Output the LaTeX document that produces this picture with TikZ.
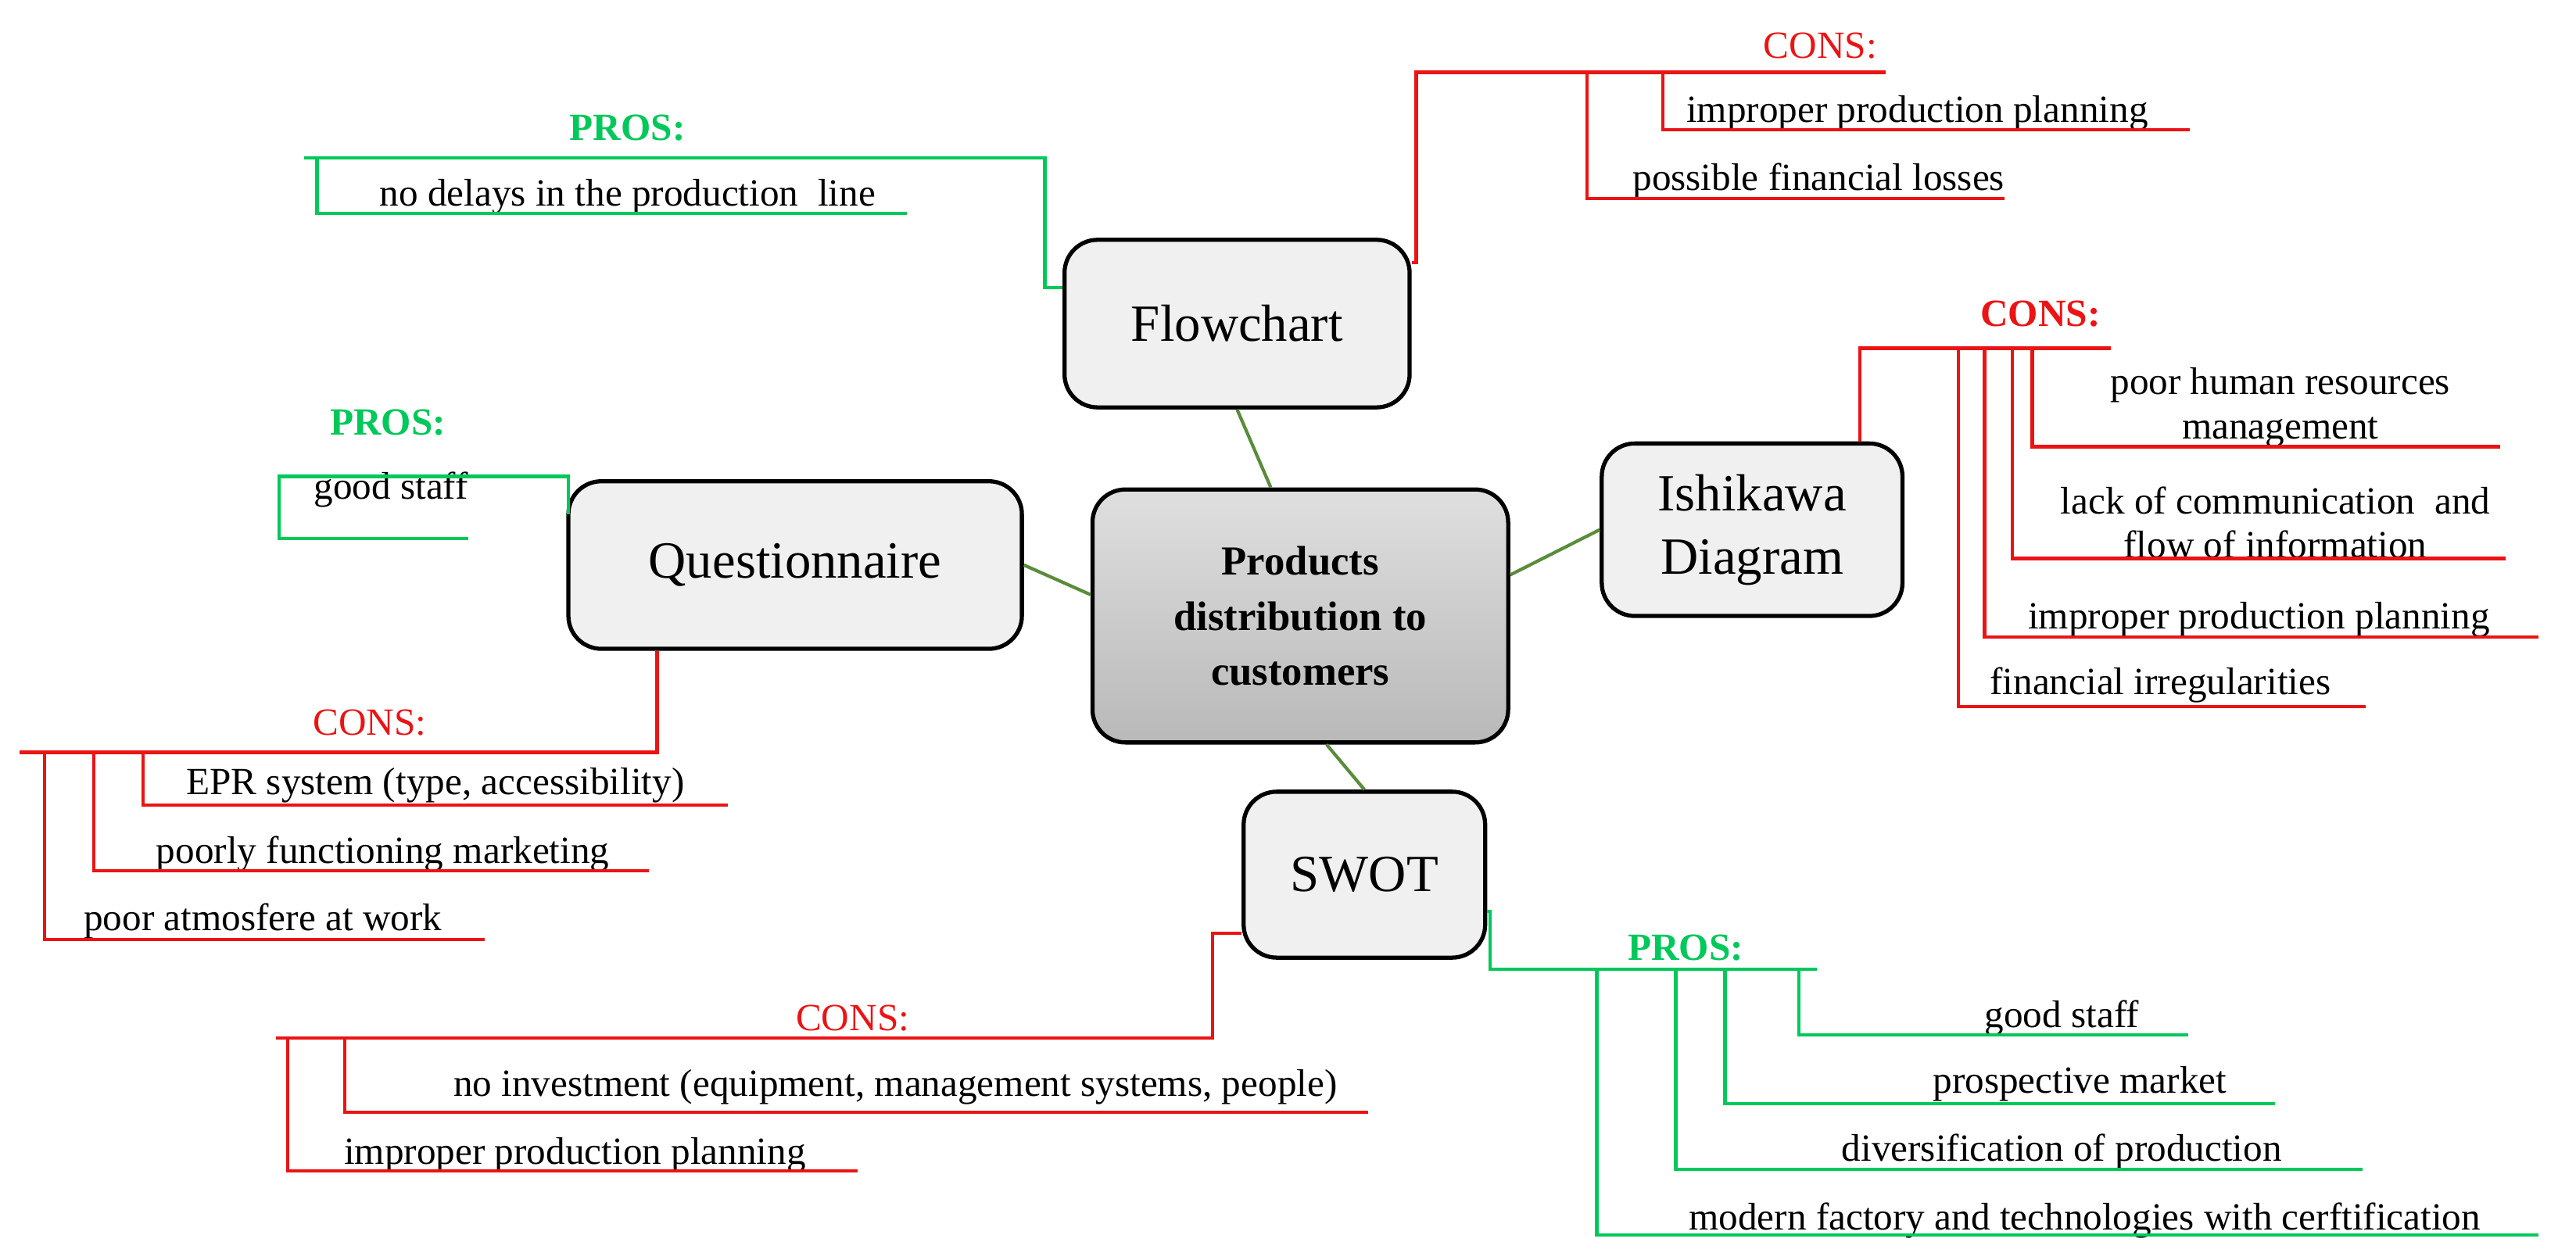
\documentclass[tikz,border=0pt]{standalone}
\usepackage{fontspec}
\setmainfont{Liberation Serif}
\usetikzlibrary{positioning}
\definecolor{pgreen}{RGB}{0,200,90}
\definecolor{cred}{RGB}{235,20,20}
\definecolor{linkgreen}{RGB}{90,140,60}

\begin{document}
\begin{tikzpicture}[
                    x=0.021014cm, y=-0.021014cm,
                    box/.style={
                        rectangle,
                        rounded corners=12pt,
                        draw=black,
                        line width=1.5pt,
                        fill=gray!12,
                        align=center,
                        font=\fontsize{19}{23}\selectfont
                    },
                    link/.style={draw=linkgreen, line width=1.2pt},
                    pro/.style={draw=pgreen, line width=1.2pt},
                    con/.style={draw=cred, line width=1.2pt},
                    txt/.style={font=\fontsize{14}{16}\selectfont, align=center, inner sep=1pt},
                    prohead/.style={txt, text=pgreen, font=\fontsize{14}{16}\selectfont\bfseries},
                    conhead/.style={txt, text=cred}
                ]
                \useasboundingbox (0,0) rectangle (1568,767);
                % main boxes
                \node (center) [box, minimum width=253*0.21014mm, minimum height=154*0.21014mm,
                    top color=gray!25, bottom color=gray!55, font=\fontsize{15}{20}\selectfont\bfseries]
                    at (791.5,375) {Products\\distribution to\\customers};
                \node (flow) [box, minimum width=210*0.21014mm, minimum height=102*0.21014mm] at (753,197) {Flowchart};
                \node (quest) [box, minimum width=276*0.21014mm, minimum height=102*0.21014mm] at (484,344) {Questionnaire};
                \node (ishi) [box, minimum width=183*0.21014mm, minimum height=105*0.21014mm] at (1066.5,322.5) {Ishikawa\\Diagram};
                \node (swot) [box, minimum width=147*0.21014mm, minimum height=101*0.21014mm] at (830.5,532.5) {SWOT};

                \path[link]
                (center.north) ++(-18,0) coordinate (c1) (c1) -- (flow.south)
                (center.west) ++(0,-13) coordinate (c2) (c2) -- (quest.east)
                (center.east) ++(0,-25) coordinate (c3) (c3) -- (ishi.west)
                (center.south) ++(16,0) coordinate (c4) (c4) -- (swot.north);

                % Flowchart
                \node (fpros) [prohead] at (382,78) {PROS:};
                \node (fp1) [txt] at (382,120) {no delays in the production\ \ line};
                \draw[pro] (flow.west |- 0,175) -- (636,175) -- (636,96) -- (185,96);
                \draw[pro] (193,96) -- (193,130) -- (552,130);
                \node (fcons) [conhead] at (1108,28) {CONS:};
                \node (fc1) [txt] at (1167,69) {improper production planning};
                \node (fc2) [txt] at (1107,110) {possible financial losses};
                \draw[con] (flow.east |- 0,160) -- (862,160) -- (862,44) -- (1148,44);
                \draw[con] (1012,44) -- (1012,79) -- (1333,79);
                \draw[con] (966,44) -- (966,121) -- (1220,121);

                % Questionnaire
                \node (qpros) [prohead] at (236,257) {PROS:};
                \node (qp1) [txt] at (238,298) {good staff};
                \draw[pro] (346,313) -- (346,290) -- (170,290) -- (170,328) -- (285,328);
                \node (qcons) [conhead] at (225,440) {CONS:};
                \node (qc1) [txt] at (265,478) {EPR system (type, accessibility)};
                \node (qc2) [txt] at (233,520) {poorly functioning marketing};
                \node (qc3) [txt] at (160,561) {poor atmosfere at work};
                \draw[con] (quest.south -| 400,0) -- (400,458) -- (12,458);
                \draw[con] (87,458) -- (87,490) -- (443,490);
                \draw[con] (57,458) -- (57,530) -- (395,530);
                \draw[con] (27,458) -- (27,572) -- (295,572);

                % Ishikawa
                \node (icons) [conhead, font=\fontsize{14}{16}\selectfont\bfseries] at (1242,191) {CONS:};
                \node (ic1) [txt] at (1388,248) {poor human resources\\management};
                \node (ic2) [txt] at (1385,318) {lack of communication\ \ and\\flow of information};
                \node (ic3) [txt] at (1375,377) {improper production planning};
                \node (ic4) [txt] at (1315,417) {financial irregularities};
                \draw[con] (ishi.north -| 1132,0) -- (1132,212) -- (1285,212);
                \draw[con] (1237,212) -- (1237,272) -- (1522,272);
                \draw[con] (1225,212) -- (1225,340) -- (1525,340);
                \draw[con] (1208,212) -- (1208,388) -- (1545,388);
                \draw[con] (1192,212) -- (1192,430) -- (1440,430);

                % SWOT
                \node (scons) [conhead] at (519,620) {CONS:};
                \node (sc1) [txt] at (545,662) {no investment (equipment, management systems, people)};
                \node (sc2) [txt] at (350,703) {improper production planning};
                \draw[con] (swot.west |- 0,568) -- (738,568) -- (738,632) -- (168,632);
                \draw[con] (210,632) -- (210,677) -- (833,677);
                \draw[con] (175,632) -- (175,713) -- (522,713);
                \node (spros) [prohead] at (1026,577) {PROS:};
                \node (sp1) [txt] at (1255,620) {good staff};
                \node (sp2) [txt] at (1266,660) {prospective market};
                \node (sp3) [txt] at (1255,701) {diversification of production};
                \node (sp4) [txt] at (1269,743) {modern factory and technologies with cerftification};
                \draw[pro] (swot.east |- 0,555) -- (907,555) -- (907,590) -- (1106,590);
                \draw[pro] (1095,590) -- (1095,630) -- (1332,630);
                \draw[pro] (1050,590) -- (1050,672) -- (1385,672);
                \draw[pro] (1020,590) -- (1020,712) -- (1438,712);
                \draw[pro] (972,590) -- (972,752) -- (1545,752);
            \end{tikzpicture}
\end{document}
